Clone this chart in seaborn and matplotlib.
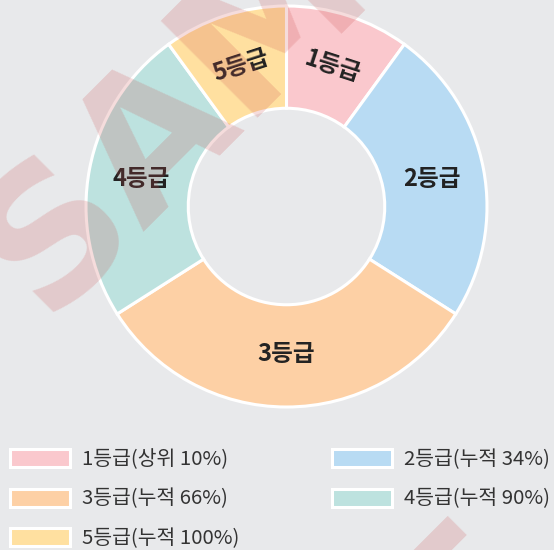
import numpy as np
import matplotlib
matplotlib.use("Agg")
import matplotlib.pyplot as plt
import seaborn as sns

# Grade distribution (share of students per grade, %)
grades = ["1등급", "2등급", "3등급", "4등급", "5등급"]
shares = [10, 24, 32, 24, 10]
legend_labels = ["1등급(상위 10%)", "2등급(누적 34%)", "3등급(누적 66%)",
                 "4등급(누적 90%)", "5등급(누적 100%)"]
palette = ["#FAC8CD", "#B8DBF3", "#FDD0A5", "#BDE2DF", "#FFE0A0"]
bg = "#E8E9EB"

sns.set_theme(style="white", rc={"figure.facecolor": bg, "axes.facecolor": bg})
plt.rcParams["font.family"] = ["Noto Sans CJK KR", "DejaVu Sans"]

W, H = 554, 550
fig = plt.figure(figsize=(W / 100, H / 100), dpi=100)
ax = fig.add_axes([0, 0, 1, 1])
ax.set_facecolor(bg)

colors = sns.color_palette(palette)
wedges, _ = ax.pie(
    shares, colors=colors, startangle=90, counterclock=False, radius=1.0,
    wedgeprops=dict(width=0.51, edgecolor="white", linewidth=2.2),
)

# map data units to pixels: centre at (286.5, 206.5) px, radius 200.5 px
R = 200.5
cx, cy = 286.5, H - 206.5
ax.set_xlim(-cx / R, (W - cx) / R)
ax.set_ylim(-cy / R, (H - cy) / R)
ax.set_aspect("auto")
ax.axis("off")

# slice labels at the middle of the ring
r_mid = 0.737
for w, name in zip(wedges, grades):
    ang = np.deg2rad((w.theta1 + w.theta2) / 2)
    x, y = r_mid * np.cos(ang), r_mid * np.sin(ang)
    rot = np.rad2deg(ang) - 90
    rot = (rot + 180) % 360 - 180
    if abs(rot) > 45 and abs(abs(rot) - 180) > 45:
        rot = 0
    elif abs(rot) > 90:
        rot = rot - 180 if rot > 0 else rot + 180
    ax.text(x, y, name, ha="center", va="center", rotation=rot,
            rotation_mode="anchor", fontsize=17, fontweight="bold",
            color="#222222")

# legend laid out row by row: (1,2) (3,4) (5)
order = [0, 2, 4, 1, 3]
leg = ax.legend(
    [wedges[i] for i in order], [legend_labels[i] for i in order],
    ncol=2, loc="upper left", bbox_to_anchor=(10 / W, 1 - 449 / H),
    bbox_transform=fig.transFigure, frameon=False, fontsize=14.7,
    handlelength=2.95, handleheight=0.97, handletextpad=0.6,
    labelspacing=0.91, columnspacing=4.5, borderpad=0, borderaxespad=0,
)
for t in leg.get_texts():
    t.set_color("#333333")

# tiled watermark (baseline origins in pixels from the top-left corner)
for ox, oy in [(44, 318), (-50, 1194)]:
    fig.text(ox / W, 1 - oy / H, "SAMPLE",
             ha="left", va="baseline", rotation=45, rotation_mode="anchor",
             fontsize=135, fontweight="bold", family="DejaVu Sans",
             color=(0.8, 0.3, 0.3), alpha=0.2, zorder=10)

fig.savefig("out.png", dpi=100, facecolor=bg)
